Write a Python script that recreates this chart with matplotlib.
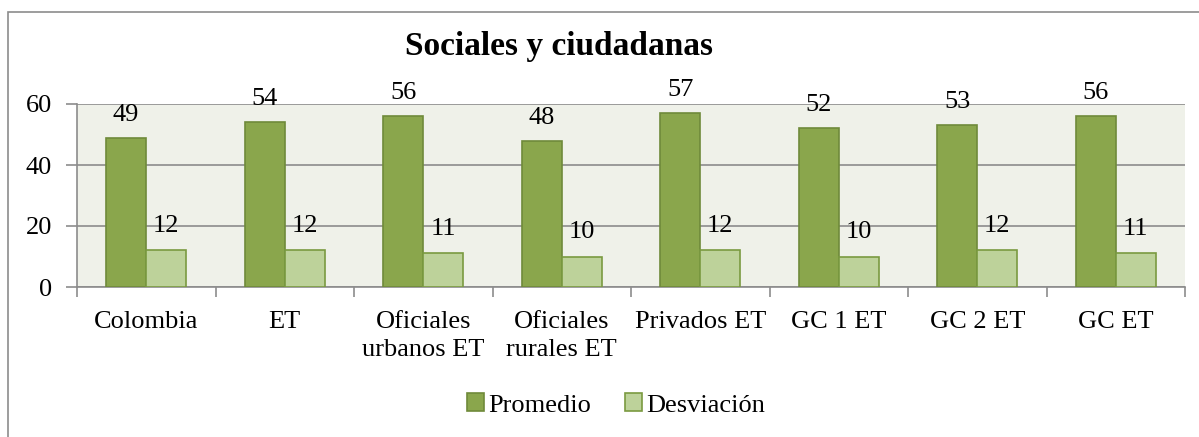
import numpy as np
import matplotlib
matplotlib.use("Agg")
from matplotlib import pyplot as plt
from matplotlib.patches import Rectangle

# Data
categories = ["Colombia", "ET", "Oficiales\nurbanos ET", "Oficiales\nrurales ET",
              "Privados ET", "GC 1 ET", "GC 2 ET", "GC ET"]
promedio = [49, 54, 56, 48, 57, 52, 53, 56]
desviacion = [12, 12, 11, 10, 12, 10, 12, 11]

plt.rcParams['font.family'] = ['Liberation Serif', 'DejaVu Serif']
FS = 19

fig = plt.figure(figsize=(11.99, 4.37), dpi=100)
ax = fig.add_axes([77 / 1199, 1 - 287 / 437, (1185 - 77) / 1199, (287 - 104) / 437])
ax.set_facecolor("#eff1e9")

x = np.arange(len(categories))
w = 0.29
b1 = ax.bar(x - w / 2, promedio, w, color="#8aa64c", edgecolor="#6f8a3a", linewidth=1.2,
            label="Promedio", zorder=3)
b2 = ax.bar(x + w / 2, desviacion, w, color="#bdd29a", edgecolor="#7a9a40", linewidth=1.2,
            label="Desviación", zorder=3)

## Value labels
for rect, v in zip(b1, promedio):
    ax.annotate(str(v), (rect.get_x() + rect.get_width() / 2, v), xytext=(0, 23),
                textcoords="offset pixels", ha="center", va="center", fontsize=FS, zorder=4,
                annotation_clip=False)
for rect, v in zip(b2, desviacion):
    ax.annotate(str(v), (rect.get_x() + rect.get_width() / 2, v), xytext=(0, 24),
                textcoords="offset pixels", ha="center", va="center", fontsize=FS, zorder=4)

## Axes
ax.set_xlim(-0.5, len(categories) - 0.5)
ax.set_ylim(0, 60)
ax.set_yticks([0, 20, 40, 60])
ax.yaxis.grid(True, color="#8c8c8c", linewidth=1.2, zorder=1)
ax.set_xticks(x)
ax.set_xticklabels(categories, fontsize=FS, linespacing=1.4)
ax.set_xticks(np.arange(len(categories) + 1) - 0.5, minor=True)
ax.tick_params(axis="x", which="major", length=0, pad=17)
ax.tick_params(axis="x", which="minor", length=7, color="#8c8c8c", width=1.2)
ax.tick_params(axis="y", length=8, color="#8c8c8c", width=1.2, labelsize=FS, pad=10)
for s in ["top", "right"]:
    ax.spines[s].set_visible(False)
for s in ["left", "bottom"]:
    ax.spines[s].set_color("#8c8c8c")
    ax.spines[s].set_linewidth(1.2)

## Title
fig.text(559 / 1199, 1 - 47 / 437, "Sociales y ciudadanas", ha="center", va="center",
         fontsize=24, fontweight="bold")

## Legend
fig.legend(handles=[b1, b2], loc="center", bbox_to_anchor=(616 / 1199, 1 - 405 / 437),
           ncol=2, frameon=False, fontsize=FS, handlelength=0.65, handleheight=0.65,
           handletextpad=0.15, columnspacing=1.3)

## Figure border
fig.patches.append(Rectangle((8 / 1199, -0.05), 1.2, 1 - 12 / 437 + 0.05, transform=fig.transFigure,
                             fill=False, edgecolor="#8c8c8c", linewidth=1.2))

fig.savefig("out.png", dpi=100)
